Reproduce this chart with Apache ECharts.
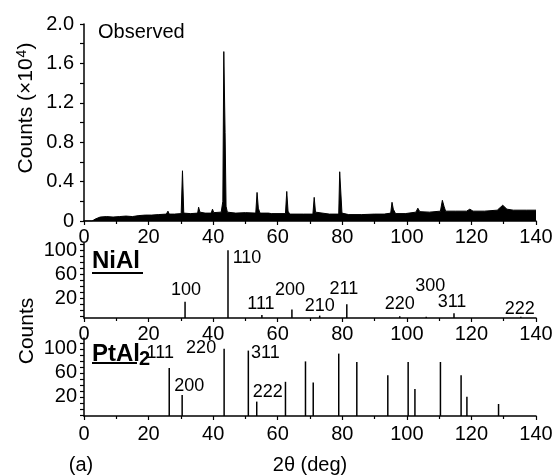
<!DOCTYPE html>
<html>
<head>
<meta charset="utf-8">
<script src="https://cdn.jsdelivr.net/npm/echarts@6/dist/echarts.min.js"></script>
<style>
  html, body { margin: 0; padding: 0; background: #fff; }
  #chart { width: 556px; height: 476px; }
</style>
</head>
<body>
<div id="chart"></div>
<script>
// Observed diffraction pattern: [2θ (deg), counts ×10^4]
const observed = [
  [0, 0], [2.5, 0], [3.5, 0.02], [5, 0.04], [7, 0.045], [9, 0.04], [11, 0.045],
  [13, 0.05], [15, 0.045], [17, 0.055], [19, 0.06], [21, 0.06], [23, 0.065],
  [25.5, 0.07], [26.0, 0.10], [26.4, 0.07], [28, 0.07], [30.1, 0.075], [30.5, 0.51],
  [30.9, 0.08], [33, 0.075], [35.2, 0.08], [35.5, 0.14], [35.9, 0.09], [37.5, 0.08],
  [39.4, 0.08], [39.8, 0.12], [40.2, 0.085], [42.5, 0.09], [43.0, 0.2], [43.3, 1.72],
  [43.7, 0.9], [44.0, 0.15], [44.4, 0.09], [47, 0.08], [50, 0.085], [53.2, 0.08],
  [53.6, 0.29], [54.0, 0.13], [54.5, 0.08], [57.2, 0.08], [57.6, 0.09], [58, 0.075],
  [62.4, 0.075], [62.8, 0.30], [63.2, 0.10], [63.7, 0.07], [68, 0.07], [70.9, 0.07],
  [71.3, 0.24], [71.7, 0.09], [72.2, 0.07], [76, 0.07], [78.9, 0.07], [79.2, 0.50],
  [79.6, 0.48], [79.9, 0.08], [82, 0.065], [86, 0.065], [90, 0.07], [93, 0.07],
  [95.0, 0.08], [95.4, 0.19], [95.8, 0.12], [96.5, 0.075], [99.5, 0.075], [100, 0.09],
  [102.8, 0.09], [103.4, 0.13], [104, 0.095], [107, 0.09], [110.4, 0.10], [111.0, 0.21],
  [111.5, 0.15], [112, 0.10], [115, 0.10], [118.5, 0.10], [119.5, 0.12], [120.5, 0.10],
  [124, 0.10], [128, 0.11], [129.7, 0.16], [131, 0.12], [133, 0.11], [137, 0.11], [140, 0.11]
];

// NiAl reference pattern
const niAlTwoTheta = [31.3, 44.6, 55.1, 64.4, 73.0, 81.4, 97.8, 106.0, 114.6, 135.3];
const niAlCounts = [14, 100, -8, 1, -9, 10, -10, -11, -5, -11];
const niAlHkl = ['100', '110', '111', '200', '210', '211', '220', '300', '311', '222'];

// PtAl2 reference pattern
const ptAl2TwoTheta = [26.4, 30.4, 43.4, 50.9, 53.5, 62.4, 68.6, 71.0, 78.9, 84.5,
  94.1, 100.4, 102.5, 110.4, 116.8, 118.6, 128.4];
const ptAl2Counts = [68, 23, 100, 97, 12, 45, 79, 44, 92, 78, 56, 78, 33, 78, 56, 20, 8];
const ptAl2Hkl = ['111', '200', '220', '311', '222', '', '', '', '', '', '', '', '', '', '', '', ''];

// Tick labels
const twoThetaTicks = [0, 20, 40, 60, 80, 100, 120, 140];
const refCountTicks = [20, 60, 100];

// Label placement relative to each stick top (px)
const niAlLabelOffset = [[1, -12], [19, 8], [-1, -11], [-2, -20], [0, -10], [-3, -15], [0, -12], [4, -31], [-2, -11], [-1, -8]];
const ptAl2LabelOffset = [[-9, -15], [7, -9], [-23, -1], [17, 2], [11, -10]];

const NI_MIN = -13, NI_MAX = 112, PT_MIN = -12, PT_MAX = 118;

const digitFont = '"Liberation Sans", Arial, sans-serif';
const black = '#000';

const chart = echarts.init(document.getElementById('chart'), null, { renderer: 'canvas' });

function xAxisFor(gridIndex, margin) {
  return {
    gridIndex, type: 'value', min: 0, max: 140, interval: 20,
    axisLine: { show: true, onZero: false, lineStyle: { color: black, width: 1.5 } },
    axisTick: { show: true, length: 4, lineStyle: { color: black, width: 1.2 } },
    minorTick: { show: true, splitNumber: 2, length: 3, lineStyle: { color: black, width: 1.2 } },
    axisLabel: {
      color: black, fontSize: 20, fontFamily: digitFont, margin,
      customValues: twoThetaTicks
    },
    splitLine: { show: false }
  };
}

function refYAxis(gridIndex, min, max) {
  const ticks = [];
  for (let v = -10; v <= max; v += 10) ticks.push(v);
  return {
    gridIndex, type: 'value', min, max,
    axisLine: { show: true, onZero: false, lineStyle: { color: black, width: 1.5 } },
    axisTick: { show: true, length: 4, customValues: ticks, lineStyle: { color: black, width: 1.2 } },
    axisLabel: { color: black, fontSize: 20, fontFamily: digitFont, margin: 7, customValues: refCountTicks },
    splitLine: { show: false }
  };
}

function stickSeries(axisIndex, xs, ys, names, offsets, yMin) {
  return {
    type: 'custom',
    xAxisIndex: axisIndex,
    yAxisIndex: axisIndex,
    clip: false,
    data: xs.map((x, i) => [x, ys[i], i]),
    encode: { x: 0, y: 1 },
    renderItem: function (params, api) {
      const x = api.value(0), v = api.value(1), i = api.value(2);
      const top = api.coord([x, v]);
      const base = api.coord([x, yMin]);
      const children = [{
        type: 'line',
        shape: { x1: top[0], y1: base[1], x2: top[0], y2: top[1] },
        style: { stroke: black, lineWidth: 1.5 }
      }];
      if (names[i]) {
        children.push({
          type: 'text',
          x: top[0] + offsets[i][0],
          y: top[1] + offsets[i][1],
          style: {
            text: names[i], fill: black,
            font: '18px ' + digitFont,
            align: 'center', verticalAlign: 'middle'
          }
        });
      }
      return { type: 'group', children };
    }
  };
}

const option = {
  backgroundColor: '#fff',
  animation: false,
  grid: [
    { left: 84, top: 24, width: 452, height: 197 },
    { left: 84, top: 243, width: 452, height: 75 },
    { left: 84, top: 338, width: 452, height: 78 }
  ],
  xAxis: [xAxisFor(0, 6), xAxisFor(1, 6), xAxisFor(2, 8)],
  yAxis: [
    {
      gridIndex: 0, type: 'value', min: 0, max: 2.0, interval: 0.4,
      axisLine: { show: true, lineStyle: { color: black, width: 1.5 } },
      axisTick: { show: true, length: 4, lineStyle: { color: black, width: 1.2 } },
      minorTick: { show: true, splitNumber: 2, length: 4, lineStyle: { color: black, width: 1.2 } },
      axisLabel: {
        color: black, fontSize: 20, fontFamily: digitFont, margin: 10,
        formatter: v => (v === 0 ? '0' : v.toFixed(1))
      },
      splitLine: { show: false }
    },
    refYAxis(1, NI_MIN, NI_MAX),
    refYAxis(2, PT_MIN, PT_MAX)
  ],
  series: [
    {
      type: 'line',
      xAxisIndex: 0, yAxisIndex: 0,
      data: observed,
      showSymbol: false,
      lineStyle: { color: black, width: 1 },
      areaStyle: { color: black, opacity: 1 },
      z: 1
    },
    stickSeries(1, niAlTwoTheta, niAlCounts, niAlHkl, niAlLabelOffset, NI_MIN),
    stickSeries(2, ptAl2TwoTheta, ptAl2Counts, ptAl2Hkl, ptAl2LabelOffset, PT_MIN)
  ],
  graphic: [
    {
      type: 'text', left: 98, top: 22,
      style: { text: 'Observed', fill: black, font: '20px ' + digitFont }
    },
    {
      type: 'text', x: 26, y: 108, rotation: Math.PI / 2,
      style: {
        text: '{a|Counts (×10}{s|4}{a|)}',
        align: 'center', verticalAlign: 'middle',
        rich: {
          a: { fontSize: 21, fontFamily: digitFont, fill: black, color: black },
          s: { fontSize: 14, fontFamily: digitFont, fill: black, color: black, verticalAlign: 'top', padding: [0, 0, 8, 1] }
        }
      }
    },
    {
      type: 'text', x: 27, y: 331, rotation: Math.PI / 2,
      style: { text: 'Counts', fill: black, font: '21px ' + digitFont, align: 'center', verticalAlign: 'middle' }
    },
    {
      type: 'text', x: 92, y: 261,
      style: { text: 'NiAl', fill: black, font: 'bold 24px ' + digitFont, align: 'left', verticalAlign: 'middle' }
    },
    { type: 'line', shape: { x1: 92, y1: 273, x2: 143, y2: 273 }, style: { stroke: black, lineWidth: 2 } },
    {
      type: 'text', x: 92, y: 354,
      style: { text: 'PtAl', fill: black, font: 'bold 24px ' + digitFont, align: 'left', verticalAlign: 'middle' }
    },
    {
      type: 'text', x: 139, y: 359,
      style: { text: '2', fill: black, font: 'bold 20px ' + digitFont, align: 'left', verticalAlign: 'middle' }
    },
    { type: 'line', shape: { x1: 92, y1: 363, x2: 137, y2: 363 }, style: { stroke: black, lineWidth: 2 } },
    {
      type: 'text', x: 310, y: 465,
      style: { text: '2θ (deg)', fill: black, font: '20px ' + digitFont, align: 'center', verticalAlign: 'middle' }
    },
    {
      type: 'text', x: 81, y: 465,
      style: { text: '(a)', fill: black, font: '20px ' + digitFont, align: 'center', verticalAlign: 'middle' }
    }
  ]
};

chart.setOption(option);
</script>
</body>
</html>
